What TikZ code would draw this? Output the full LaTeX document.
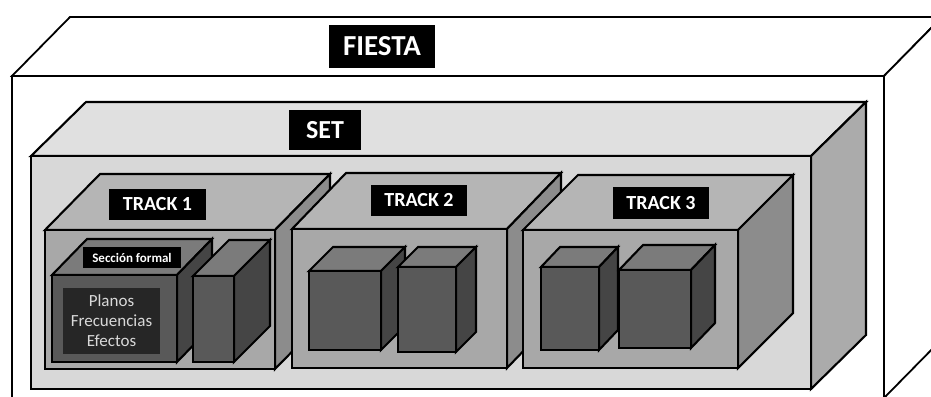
\documentclass[tikz,border=0pt]{standalone}
\usepackage{fontspec}
\setmainfont{Carlito}
\usetikzlibrary{positioning}

% grey levels of the nested boxes
\definecolor{setfront}{HTML}{D8D8D8}
\definecolor{settop}{HTML}{E0E0E0}
\definecolor{setside}{HTML}{ABABAB}
\definecolor{trkfront}{HTML}{A8A8A8}
\definecolor{trktop}{HTML}{B5B5B5}
\definecolor{trkside}{HTML}{8C8C8C}
\definecolor{cubefront}{HTML}{595959}
\definecolor{cubetop}{HTML}{7B7B7B}
\definecolor{cubeside}{HTML}{454545}
\definecolor{panel}{HTML}{262626}
\definecolor{paneltext}{HTML}{D9D9D9}

% a box seen slightly from above and from the right:
% #1,#2 front top-left, #3,#4 front bottom-right, #5,#6 depth offset,
% #7 front colour, #8 top colour, #9 side colour
\newcommand\prismbox[9]{%
  \filldraw[fill=#8] (#1,#2) -- ({#1+#5},{#2-#6}) -- ({#3+#5},{#2-#6}) -- (#3,#2) -- cycle;
  \filldraw[fill=#9] (#3,#2) -- ({#3+#5},{#2-#6}) -- ({#3+#5},{#4-#6}) -- (#3,#4) -- cycle;
  \filldraw[fill=#7] (#1,#2) rectangle (#3,#4);
}

\begin{document}
\begin{tikzpicture}[x=1pt,y=-1pt,line join=miter,
  tag/.style={fill=black,text=white,inner sep=0pt,anchor=center,font=\bfseries},
  boxline/.style={line width=2.1pt}]
\useasboundingbox (0,0) rectangle (931,396);
\clip (0,0) rectangle (931,396);

% FIESTA
\begin{scope}[line width=1.8pt]
  \prismbox{12}{76}{884}{398}{58}{59}{white}{white}{white}
\end{scope}

\begin{scope}[boxline]
  % SET
  \prismbox{31}{156}{811}{389}{55}{54}{setfront}{settop}{setside}
  % tracks
  \prismbox{45}{230}{275}{369}{55}{56}{trkfront}{trktop}{trkside}
  \prismbox{292}{229}{507}{368}{54}{56}{trkfront}{trktop}{trkside}
  \prismbox{523}{230}{738}{368}{55}{55}{trkfront}{trktop}{trkside}
  % formal sections, track 1
  \prismbox{52}{275}{177}{362}{35}{36}{cubefront}{cubetop}{cubeside}
  \prismbox{193}{276}{234}{362}{36}{36}{cubefront}{cubetop}{cubeside}
  % formal sections, track 2
  \prismbox{309}{271}{381}{350}{24}{24}{cubefront}{cubetop}{cubeside}
  \prismbox{398}{267}{456}{352}{20}{20}{cubefront}{cubetop}{cubeside}
  % formal sections, track 3
  \prismbox{541}{267}{599}{350}{19}{20}{cubefront}{cubetop}{cubeside}
  \prismbox{619}{270}{691}{348}{24}{25}{cubefront}{cubetop}{cubeside}
\end{scope}

% contents of the first section
\node[fill=panel,inner sep=0pt,minimum width=97pt,minimum height=66pt,
      text=paneltext,font=\fontsize{17}{20}\selectfont,align=center]
  (contenido) at (111.5,321) {Planos\\Frecuencias\\Efectos};

% titles
\node[tag,minimum width=106pt,minimum height=43pt,font=\bfseries\fontsize{29}{30}\selectfont]
  (fiesta) at (382,46.5) {FIESTA};
\node[tag,minimum width=72pt,minimum height=40pt,font=\bfseries\fontsize{26}{28}\selectfont]
  (set) at (325,130) {SET};
\node[tag,minimum width=97pt,minimum height=31pt,font=\bfseries\fontsize{20}{22}\selectfont]
  (track1) at (157.5,204.5) {TRACK 1};
\node[tag,minimum width=96pt,minimum height=31pt,font=\bfseries\fontsize{20}{22}\selectfont]
  (track2) at (419,200.5) {TRACK 2};
\node[tag,minimum width=96pt,minimum height=32pt,font=\bfseries\fontsize{20}{22}\selectfont]
  (track3) at (661,203) {TRACK 3};
\node[tag,minimum width=98pt,minimum height=21pt,font=\bfseries\fontsize{13}{14}\selectfont]
  (seccion) at (132,257.5) {Sección formal};
\end{tikzpicture}
\end{document}
